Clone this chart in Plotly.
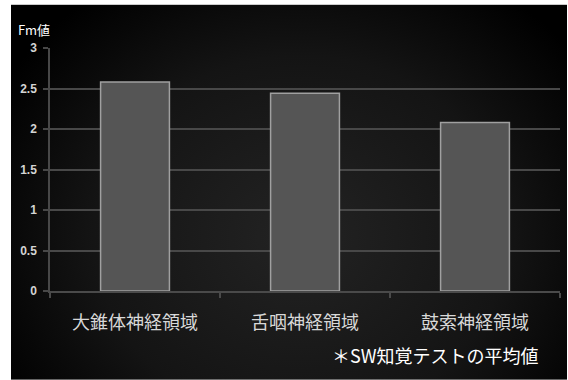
import base64
import plotly.graph_objects as go

categories = ["大錐体神経領域", "舌咽神経領域", "鼓索神経領域"]
fm_values = [2.58, 2.44, 2.08]
y_ticks = [0, 0.5, 1, 1.5, 2, 2.5, 3]
y_tick_labels = ["0", "0.5", "1", "1.5", "2", "2.5", "3"]
y_title = "Fm値"
footnote = "＊SW知覚テストの平均値"

W, H = 568, 380
ml, mr, mt, mb = 50, 8, 47.5, 89
pw, ph = W - ml - mr, H - mt - mb

svg = (
    '<svg xmlns="http://www.w3.org/2000/svg" width="556" height="376" '
    'viewBox="0 0 556 376" preserveAspectRatio="none">'
    '<defs><radialGradient id="g" cx="0.52" cy="0.62" r="0.62" '
    'gradientTransform="translate(0.52 0.62) scale(1 1.3) translate(-0.52 -0.62)">'
    '<stop offset="0" stop-color="#232323"/>'
    '<stop offset="0.6" stop-color="#141414"/>'
    '<stop offset="1" stop-color="#000000"/>'
    '</radialGradient></defs>'
    '<rect width="556" height="376" fill="url(#g)"/></svg>'
)
src = "data:image/svg+xml;base64," + base64.b64encode(svg.encode()).decode()

def px_x(x):
    return (x - ml) / pw

def px_y(y):
    return (H - mb - y) / ph

fig = go.Figure(
    go.Bar(
        x=categories,
        y=fm_values,
        marker=dict(color="#555555", line=dict(color="#a0a0a0", width=1.5)),
        width=0.405,
        hoverinfo="skip",
    )
)

fig.add_layout_image(
    dict(
        source=src,
        xref="paper", yref="paper",
        x=px_x(11), y=px_y(4),
        sizex=px_x(567) - px_x(11), sizey=px_y(4) - px_y(380),
        xanchor="left", yanchor="top",
        sizing="stretch", layer="below",
    )
)

fig.update_layout(
    width=W, height=H,
    margin=dict(l=ml, r=mr, t=mt, b=mb, pad=0),
    paper_bgcolor="white",
    plot_bgcolor="rgba(0,0,0,0)",
    showlegend=False,
    xaxis=dict(
        showgrid=False,
        showline=True, linecolor="#4a4a4a", linewidth=2,
        ticks="outside", tickson="boundaries", ticklen=5, tickcolor="#4a4a4a", tickwidth=1.5,
        tickfont=dict(family="Noto Sans CJK JP", size=18, color="#d8d8d8"),
        ticklabelstandoff=14,
    ),
    yaxis=dict(
        range=[0, 3],
        tickvals=y_ticks, ticktext=y_tick_labels,
        showgrid=True, gridcolor="#484848", gridwidth=2,
        showline=True, linecolor="#484848", linewidth=1.5,
        ticks="outside", ticklen=5, tickcolor="#484848", tickwidth=1.5,
        tickfont=dict(family="Liberation Sans", size=12, color="#d4d4d4", weight="bold"),
        zeroline=False,
        ticklabelstandoff=4,
    ),
    annotations=[
        dict(
            text=y_title, xref="paper", yref="paper",
            x=px_x(16), y=px_y(29), xanchor="left", yanchor="middle",
            showarrow=False,
            font=dict(family="Noto Sans CJK JP", size=13, color="#ffffff"),
        ),
        dict(
            text=footnote, xref="paper", yref="paper",
            x=px_x(541), y=px_y(355), xanchor="right", yanchor="middle",
            showarrow=False,
            font=dict(family="Noto Sans CJK JP", size=18, color="#ffffff"),
        ),
    ],
)

fig.write_html(
    "out.html",
    config={"displayModeBar": False},
    post_script="document.body.style.margin='0';document.body.style.padding='0';",
)
